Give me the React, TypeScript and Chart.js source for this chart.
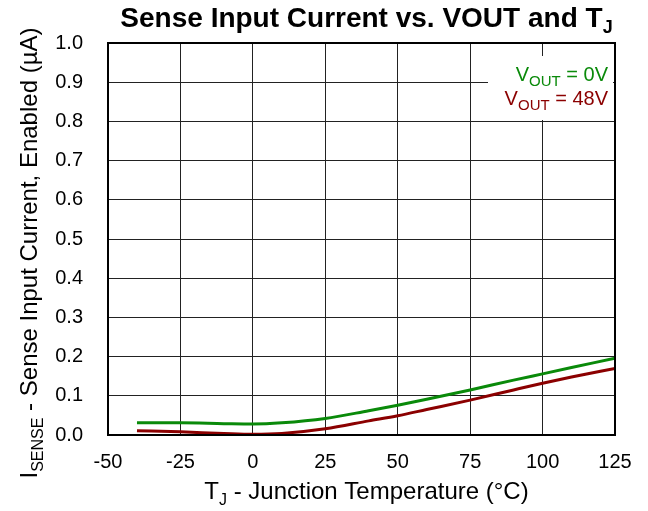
import React, { useEffect, useRef } from "react";
import { Chart, registerables } from "chart.js";

Chart.register(...registerables);

const temps = [-40, -25, -10, 0, 10, 25, 40, 50, 60, 75, 90, 100, 110, 125];
const vout0 = [0.031, 0.031, 0.029, 0.028, 0.031, 0.042, 0.062, 0.076, 0.091, 0.115, 0.14, 0.156, 0.172, 0.196];
const vout48 = [0.011, 0.008, 0.004, 0.002, 0.004, 0.016, 0.036, 0.049, 0.065, 0.089, 0.115, 0.132, 0.148, 0.17];
const seriesNames = ["= 0V", "= 48V"];
const seriesColors = ["#0a8a0a", "#8b0000"];

const FONT = "'Liberation Sans', Arial, sans-serif";

type Part = { t: string; sub?: boolean };

function measureParts(ctx: CanvasRenderingContext2D, parts: Part[], size: number, subSize: number, bold: boolean) {
  let w = 0;
  for (const p of parts) {
    ctx.font = `${bold ? "bold " : ""}${p.sub ? subSize : size}px ${FONT}`;
    w += ctx.measureText(p.t).width;
  }
  return w;
}

function drawParts(ctx: CanvasRenderingContext2D, parts: Part[], x: number, y: number, size: number, subSize: number, subDy: number, bold: boolean) {
  let cx = x;
  ctx.textAlign = "left";
  ctx.textBaseline = "alphabetic";
  for (const p of parts) {
    ctx.font = `${bold ? "bold " : ""}${p.sub ? subSize : size}px ${FONT}`;
    ctx.fillText(p.t, cx, p.sub ? y + subDy : y);
    cx += ctx.measureText(p.t).width;
  }
}

const textPlugin = {
  id: "texts",
  beforeDatasetsDraw(chart: any) {
    const ctx = chart.ctx;
    ctx.save();
    ctx.fillStyle = "#fff";
    ctx.fillRect(488, 56, 125, 64);
    ctx.restore();
  },
  afterDatasetsDraw(chart: any) {
    const ctx: CanvasRenderingContext2D = chart.ctx;
    const a = chart.chartArea;
    ctx.save();
    ctx.strokeStyle = "#000";
    ctx.lineWidth = 2;
    ctx.strokeRect(a.left, a.top, a.right - a.left, a.bottom - a.top);
    ctx.fillStyle = "#000";
    const cxPlot = (a.left + a.right) / 2 + 5;

    // title
    const title: Part[] = [{ t: "Sense Input Current vs. VOUT and T" }, { t: "J", sub: true }];
    let w = measureParts(ctx, title, 28, 18, true);
    drawParts(ctx, title, cxPlot - w / 2, 27, 28, 18, 6, true);

    // x title
    const xt: Part[] = [{ t: "T" }, { t: "J", sub: true }, { t: " - Junction Temperature (°C)" }];
    w = measureParts(ctx, xt, 24, 16, false);
    drawParts(ctx, xt, cxPlot - w / 2, 499, 24, 16, 6, false);

    // y title
    const yt: Part[] = [{ t: "I" }, { t: "SENSE", sub: true }, { t: " - Sense Input Current, Enabled (µA)" }];
    w = measureParts(ctx, yt, 24, 16, false);
    ctx.save();
    ctx.translate(37, 253);
    ctx.rotate(-Math.PI / 2);
    drawParts(ctx, yt, -w / 2, 0, 24, 16, 6, false);
    ctx.restore();

    // legend
    const baselines = [81, 105];
    for (let i = 0; i < 2; i++) {
      const parts: Part[] = [{ t: "V" }, { t: "OUT", sub: true }, { t: " " + seriesNames[i] }];
      ctx.fillStyle = seriesColors[i];
      const lw = measureParts(ctx, parts, 20, 15, false);
      drawParts(ctx, parts, 608 - lw, baselines[i], 20, 15, 5, false);
    }
    ctx.restore();
  },
};

export default function App() {
  const ref = useRef<HTMLCanvasElement>(null);
  useEffect(() => {
    if (!ref.current) return;
    const chart = new Chart(ref.current, {
      type: "line",
      data: {
        datasets: [
          {
            label: "VOUT = 0V",
            data: temps.map((t, i) => ({ x: t, y: vout0[i] })),
            borderColor: seriesColors[0],
            borderWidth: 3,
            pointRadius: 0,
            cubicInterpolationMode: "monotone",
            fill: false,
          },
          {
            label: "VOUT = 48V",
            data: temps.map((t, i) => ({ x: t, y: vout48[i] })),
            borderColor: seriesColors[1],
            borderWidth: 3,
            pointRadius: 0,
            cubicInterpolationMode: "monotone",
            fill: false,
          },
        ],
      },
      options: {
        animation: false,
        responsive: false,
        devicePixelRatio: 1,
        layout: { padding: { left: 0, top: 43, right: 33, bottom: 0 } },
        plugins: { legend: { display: false }, title: { display: false }, tooltip: { enabled: false } },
        scales: {
          x: {
            type: "linear",
            min: -50,
            max: 125,
            ticks: { stepSize: 25, color: "#000", padding: 15, font: { size: 20, family: FONT }, maxRotation: 0, autoSkip: false },
            grid: { color: "#222", lineWidth: 1, drawTicks: false },
            border: { display: false },
            afterFit: (s: any) => { s.height = 76; },
          },
          y: {
            type: "linear",
            min: 0,
            max: 1,
            ticks: { stepSize: 0.1, color: "#000", padding: 25, font: { size: 20, family: FONT }, callback: (v: any) => Number(v).toFixed(1), autoSkip: false },
            grid: { color: "#222", lineWidth: 1, drawTicks: false },
            border: { display: false },
            afterFit: (s: any) => { s.width = 108; },
          },
        },
      },
      plugins: [textPlugin],
    });
    return () => chart.destroy();
  }, []);
  return (
    <div style={{ position: "fixed", left: 0, top: 0, width: 648, height: 511, background: "#fff" }}>
      <canvas ref={ref} width={648} height={511} style={{ display: "block" }} />
    </div>
  );
}
